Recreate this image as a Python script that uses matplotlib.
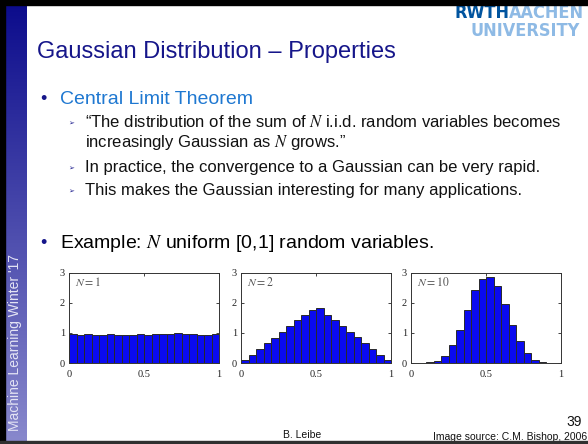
import numpy as np
import matplotlib
matplotlib.use('Agg')
import matplotlib.pyplot as plt
from matplotlib.patches import Rectangle
from matplotlib import font_manager as fm

plt.rcParams['font.family'] = ['Liberation Sans', 'DejaVu Sans']
plt.rcParams['mathtext.fontset'] = 'stix'

# histogram data (20 bins on [0,1])
bin_left = [0.0, 0.05, 0.1, 0.15, 0.2, 0.25, 0.3, 0.35, 0.4, 0.45,
            0.5, 0.55, 0.6, 0.65, 0.7, 0.75, 0.8, 0.85, 0.9, 0.95]
h_n1 = [0.97, 0.95, 0.97, 0.95, 0.95, 0.97, 0.95, 0.95, 0.95, 0.97,
        0.92, 0.96, 0.96, 0.96, 1.00, 0.97, 0.96, 0.95, 0.95, 0.97]
h_n2 = [0.10, 0.28, 0.46, 0.68, 0.83, 1.02, 1.22, 1.42, 1.61, 1.78,
        1.83, 1.59, 1.42, 1.23, 1.02, 0.88, 0.68, 0.48, 0.28, 0.10]
h_n10 = [0.0, 0.0, 0.02, 0.07, 0.25, 0.61, 1.09, 1.76, 2.42, 2.80,
         2.88, 2.57, 1.96, 1.26, 0.74, 0.32, 0.11, 0.03, 0.01, 0.0]
panel_labels = ['$N = 1$', '$N = 2$', '$N = 10$']
x_ticks = [0, 0.5, 1]
x_ticklabels = ['0', '0.5', '1']
y_ticks = [0, 1, 2, 3]

W, H = 588, 444
fig = plt.figure(figsize=(W / 100, H / 100), dpi=100)

# background axes in pixel coordinates
bg = fig.add_axes([0, 0, 1, 1])
bg.set_xlim(0, W)
bg.set_ylim(H, 0)
bg.axis('off')

# left sidebar with vertical gradient
top_c = np.array([12, 12, 140]) / 255
bot_c = np.array([136, 136, 204]) / 255
t = np.linspace(0, 1, 256)[:, None]
grad = (top_c * (1 - t) + bot_c * t)[:, None, :]
bg.imshow(grad, extent=[5, 27, 441, 5], aspect='auto', zorder=1)
bg.text(15, 431, "Machine Learning Winter '17", rotation=90, rotation_mode='anchor',
        ha='left', va='center', fontsize=10, color='#e4e4f4', zorder=3)

# logo (condensed bold if some condensed face is installed)
fonts = fm.fontManager.ttflist
names = {f.name for f in fonts}
logo_kw = dict(fontweight='bold', va='baseline', zorder=2)
if 'Liberation Sans Narrow' in names:
    logo_kw.update(family='Liberation Sans Narrow', fontsize=15)
elif any(f.name == 'DejaVu Sans' and f.stretch == 'condensed' for f in fonts):
    logo_kw.update(family='DejaVu Sans', fontstretch='condensed', fontsize=13)
else:
    logo_kw.update(family='Liberation Sans', fontsize=13.5)
t1 = bg.text(454, 18, 'RWTH', color='#00549f', **logo_kw)
fig.canvas.draw()
bb = t1.get_window_extent()
bg.text(454 + bb.width, 18, 'AACHEN', color='#8ebae5', **logo_kw)
bg.text(470, 36, 'UNIVERSITY', color='#8ebae5', **logo_kw)

# frame strips
bg.add_patch(Rectangle((0, 0), W, 5, color='black', zorder=4))
bg.add_patch(Rectangle((0, 0), 5, H, color='black', zorder=4))
bg.add_patch(Rectangle((0, 441), W, 3, color='#303030', zorder=4))

# title and bullets
navy = '#16168a'
bg.text(37, 58, 'Gaussian Distribution – Properties', fontsize=17, color=navy, va='baseline')
bg.text(40, 104, '•', fontsize=13, color=navy, va='baseline')
bg.text(60, 104, 'Central Limit Theorem', fontsize=14, color='#1f78d1', va='baseline')

sub_lines = [(127, '“The distribution of the sum of $N$ i.i.d. random variables becomes', True),
             (147, 'increasingly Gaussian as $N$ grows.”', False),
             (172, 'In practice, the convergence to a Gaussian can be very rapid.', True),
             (195, 'This makes the Gaussian interesting for many applications.', True)]
for yb, txt, marker in sub_lines:
    if marker:
        bg.text(68, yb - 1, '➢', fontsize=5, family='DejaVu Sans', color=navy, va='baseline')
    bg.text(85, yb, txt, fontsize=12, color='#111111', va='baseline')

bg.text(40, 248, '•', fontsize=13, color=navy, va='baseline')
bg.text(60, 248, 'Example: $N$ uniform [0,1] random variables.', fontsize=14,
        color='black', va='baseline')

# footer
bg.text(302, 438, 'B. Leibe', fontsize=7.5, ha='center', va='baseline', color='#111111')
bg.text(582, 426, '39', fontsize=10, ha='right', va='baseline', color='#111111')
bg.text(587, 440, 'Image source: C.M. Bishop, 2006', fontsize=7.5, ha='right', va='baseline',
        color='#111111', zorder=3)

# histograms
panel_left = [69, 241, 411]
for px, heights, lab in zip(panel_left, [h_n1, h_n2, h_n10], panel_labels):
    ax = fig.add_axes([px / W, 1 - 363 / H, 150 / W, 90 / H])
    ax.bar(bin_left, heights, width=0.05, align='edge', color='#0a0af0',
           edgecolor='#2a2a2a', linewidth=0.7)
    ax.set_xlim(0, 1)
    ax.set_ylim(0, 3)
    ax.set_xticks(x_ticks)
    ax.set_xticklabels(x_ticklabels)
    ax.set_yticks(y_ticks)
    ax.tick_params(direction='in', length=2.5, width=0.6, top=True, right=True,
                   labelsize=7.5, colors='#222222')
    ax.tick_params(axis='x', pad=5)
    ax.tick_params(axis='y', pad=3)
    for lbl in ax.get_xticklabels() + ax.get_yticklabels():
        lbl.set_family('Liberation Serif')
    for s in ax.spines.values():
        s.set_linewidth(0.7)
        s.set_color('#333333')
    ax.text(0.04, 0.89, lab, transform=ax.transAxes, fontsize=8.5, color='#555555',
            va='center')

fig.savefig('out.png', dpi=100)
